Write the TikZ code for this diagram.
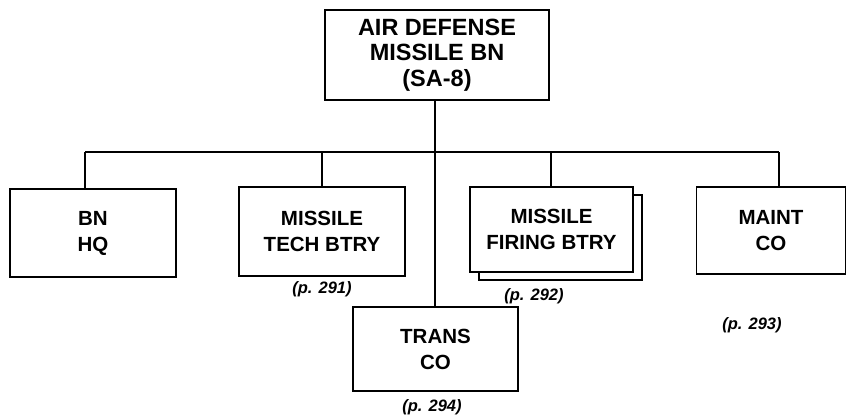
\documentclass[tikz,border=0pt]{standalone}
\usepackage{fontspec}
\setmainfont{Liberation Sans}
\begin{document}
\begin{tikzpicture}[x=1pt,y=-1pt,
  box/.style={draw, line width=1.7pt, fill=white, align=center, inner sep=0pt,
    font=\bfseries\fontsize{20.5}{26}\selectfont},
  topbox/.style={box, font=\bfseries\fontsize{23.5}{25.5}\selectfont},
  conn/.style={line width=1.8pt},
  pref/.style={font=\bfseries\itshape\fontsize{16.5}{19}\selectfont, inner sep=0pt}]
\path[fill=white] (0,0) rectangle (849,416);
\useasboundingbox (0,0) rectangle (849,416);

\node[topbox, minimum width=224pt, minimum height=90pt] (top) at (437,55) {AIR DEFENSE\\MISSILE BN\\(SA-8)};

\node[box, minimum width=166pt, minimum height=88pt] (hq) at (93,233) {BN\\HQ};
\node[box, minimum width=166pt, minimum height=89pt] (tech) at (322,231.5) {MISSILE\\TECH BTRY};
\path[draw, line width=1.7pt, fill=white] (479,195) rectangle (642,280);
\node[box, minimum width=163pt, minimum height=85pt] (fire) at (551.5,229.5) {MISSILE\\FIRING BTRY};
\node[box, minimum width=149pt, minimum height=87pt] (maint) at (771,230.5) {MAINT\\CO};
\node[box, minimum width=165pt, minimum height=84pt] (trans) at (435.5,349) {TRANS\\CO};

\coordinate (busL) at (85,152);
\coordinate (busR) at (779,152);
\coordinate (jc) at (435,152);

\draw[conn] (top.south -| jc) -- (jc);
\draw[conn] (busL) -- (busR);
\draw[conn] (busL) -- (busL |- hq.north);
\draw[conn] (tech.north |- busL) -- (tech.north);
\draw[conn] (551,152) -- (fire.north -| 551,0);
\draw[conn] (busR) -- (busR |- maint.north);
\draw[conn] (jc) -- (jc |- trans.north);

\node[pref] (p1) at (322,289) {(p. 291)};
\node[pref] (p2) at (534,296) {(p. 292)};
\node[pref] (p3) at (752,325) {(p. 293)};
\node[pref] (p4) at (432,407) {(p. 294)};
\end{tikzpicture}
\end{document}
